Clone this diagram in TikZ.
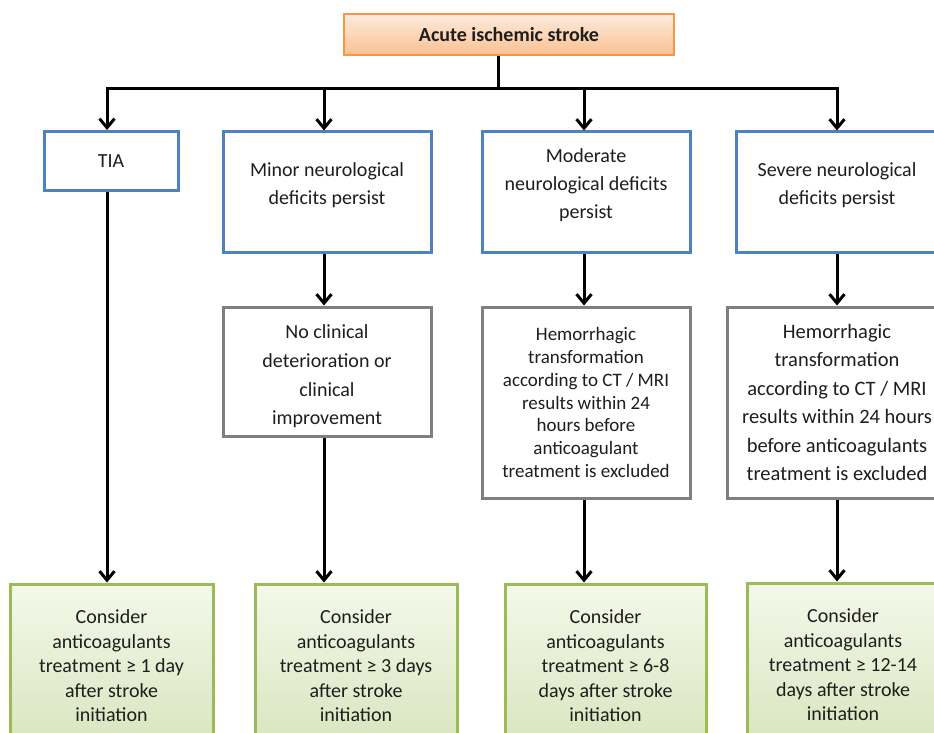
\documentclass[tikz,border=0pt]{standalone}
\usepackage{fontspec}
\setmainfont{Carlito}
\usetikzlibrary{arrows.meta,calc,positioning}

\definecolor{boxblue}{HTML}{4F81BD}
\definecolor{boxgray}{HTML}{7F7F7F}
\definecolor{boxgreen}{HTML}{9BBB59}
\definecolor{boxorange}{HTML}{F79646}
\definecolor{greentop}{HTML}{F4F8EA}
\definecolor{greenbot}{HTML}{D8E5BE}
\definecolor{orangetop}{HTML}{FDEBDD}
\definecolor{orangebot}{HTML}{FAC191}
\definecolor{txtgray}{HTML}{1E1E1E}

\begin{document}
\begin{tikzpicture}[x=1pt,y=-1pt,>={Straight Barb[length=9pt,width=15pt]},
 box/.style={draw,line width=3pt,inner sep=0pt,text=txtgray,align=center},
 bluebox/.style={box,draw=boxblue,fill=white},
 graybox/.style={box,draw=boxgray,fill=white},
 greenbox/.style={box,draw=boxgreen,top color=greentop,bottom color=greenbot,
  minimum height=164pt,font=\fontsize{20}{24.5}\selectfont},
 bluetxt/.style={text=txtgray,align=center,inner sep=0pt,font=\fontsize{20}{28}\selectfont},
 link/.style={->,line width=3pt}]
 \useasboundingbox (0,0) rectangle (934,733);

 % top of the chart
 \node[box,draw=boxorange,top color=orangetop,bottom color=orangebot,line width=2.5pt,
  minimum width=330pt,minimum height=41pt,font=\fontsize{20}{24}\selectfont\bfseries]
  (stroke) at (509,34.5) {Acute ischemic stroke};
 \coordinate (split) at (498,89);
 \draw[line width=3pt] (stroke.south -| split) -- (split);

 % first row
 \node[bluebox,minimum width=134pt,minimum height=59pt,font=\fontsize{20}{28}\selectfont]
  (tia) at (111,161) {TIA};
 \node[bluebox,minimum width=208pt,minimum height=120pt] (minor) at (327,192) {};
 \node[bluetxt] (minor-t) at ([yshift=7pt]minor.center) {Minor neurological\\deficits persist};
 \node[bluebox,minimum width=208pt,minimum height=120pt] (moderate) at (586,192) {};
 \node[bluetxt] (moderate-t) at ([yshift=7pt]moderate.center) {Moderate\\neurological deficits\\persist};
 \node[bluebox,minimum width=202pt,minimum height=120pt] (severe) at (837,192) {};
 \node[bluetxt] (severe-t) at ([yshift=7pt]severe.center) {Severe neurological\\deficits persist};

 \draw[link] (split) -| ([xshift=-4pt]tia.north);
 \draw[link] (split) -| ([xshift=-3pt]minor.north);
 \draw[link] (split) -| ([xshift=-2pt]moderate.north);
 \draw[link] (split) -| (severe.north);

 % second row
 \node[graybox,minimum width=208pt,minimum height=129pt] (stable) at (327,371.5) {};
 \node[bluetxt,font=\fontsize{20}{28.7}\selectfont] (stable-t) at ([yshift=-5pt]stable.center)
  {No clinical\\deterioration or\\clinical\\improvement};
 \node[graybox,minimum width=208pt,minimum height=191pt,font=\fontsize{19}{22.7}\selectfont]
  (hemo-mod) at (586,402.5) {Hemorrhagic\\transformation\\according to CT / MRI\\results within 24\\hours before\\anticoagulant\\treatment is excluded};
 \node[graybox,minimum width=220pt,minimum height=191pt,font=\fontsize{20.5}{28.5}\selectfont]
  (hemo-sev) at (837,402.5) {Hemorrhagic\\transformation\\according to CT / MRI\\results within 24 hours\\before anticoagulants\\treatment is excluded};

 \draw[link] ([xshift=-3pt]minor.south) -- ([xshift=-3pt]minor.south |- stable.north);
 \draw[link] ([xshift=-2pt]moderate.south) -- ([xshift=-2pt]moderate.south |- hemo-mod.north);
 \draw[link] (severe.south) -- (hemo-sev.north);

 % treatment boxes
 \node[greenbox,minimum width=203pt] (start-tia) at (111.5,666)
  {Consider\\anticoagulants\\treatment ≥ 1 day\\after stroke\\initiation};
 \node[greenbox,minimum width=202pt] (start-minor) at (356,666)
  {Consider\\anticoagulants\\treatment ≥ 3 days\\after stroke\\initiation};
 \node[greenbox,minimum width=201pt] (start-mod) at (605.5,666)
  {Consider\\anticoagulants\\treatment ≥ 6-8\\days after stroke\\initiation};
 \node[greenbox,minimum width=192pt] (start-sev) at (843,665)
  {Consider\\anticoagulants\\treatment ≥ 12-14\\days after stroke\\initiation};

 \draw[link] ([xshift=-4pt]tia.south) -- ([xshift=-4pt]tia.south |- start-tia.north);
 \draw[link] ([xshift=-3pt]stable.south) -- ([xshift=-3pt]stable.south |- start-minor.north);
 \draw[link] ([xshift=-2pt]hemo-mod.south) -- ([xshift=-2pt]hemo-mod.south |- start-mod.north);
 \draw[link] (hemo-sev.south) -- (hemo-sev.south |- start-sev.north);
\end{tikzpicture}
\end{document}
